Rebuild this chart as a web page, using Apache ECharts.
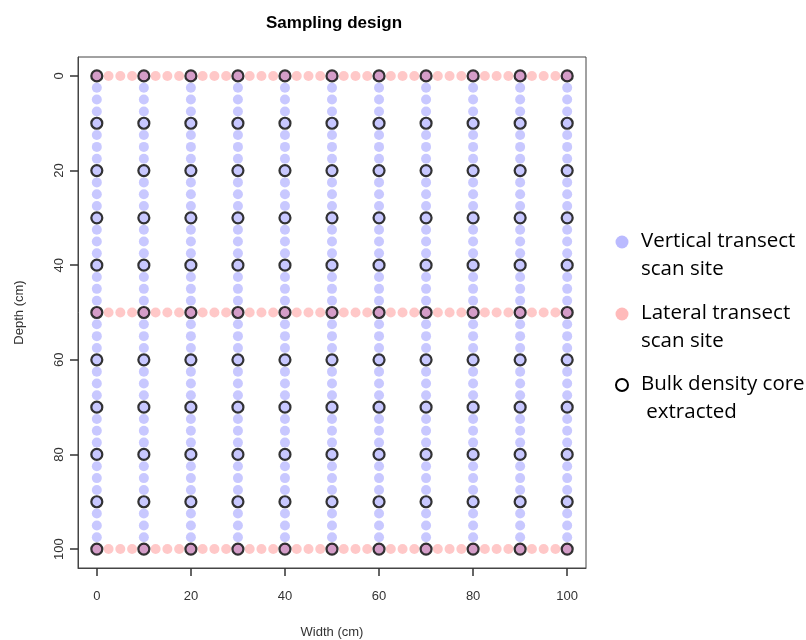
<!DOCTYPE html>
<html>
<head>
<meta charset="utf-8">
<script src="https://cdn.jsdelivr.net/npm/echarts@6/dist/echarts.min.js"></script>
<style>
  html, body { margin: 0; padding: 0; background: #fff; }
  #main { width: 806px; height: 640px; }
</style>
</head>
<body>
<div id="main"></div>
<script>
// transect positions across the width (cm)
const transectX = [0, 10, 20, 30, 40, 50, 60, 70, 80, 90, 100];
// scan sites along a transect, every 2.5 cm
const scanPos = [0, 2.5, 5, 7.5, 10, 12.5, 15, 17.5, 20, 22.5, 25, 27.5, 30, 32.5, 35, 37.5, 40,
  42.5, 45, 47.5, 50, 52.5, 55, 57.5, 60, 62.5, 65, 67.5, 70, 72.5, 75, 77.5, 80, 82.5, 85, 87.5,
  90, 92.5, 95, 97.5, 100];
// depths of the lateral transects (cm)
const lateralDepths = [0, 50, 100];
// depths where bulk density cores were taken (cm)
const coreDepths = [0, 10, 20, 30, 40, 50, 60, 70, 80, 90, 100];
const tickValues = [0, 20, 40, 60, 80, 100];

// build point lists
let verticalPts = [];
transectX.forEach(x => scanPos.forEach(d => verticalPts.push([x, d])));
let lateralPts = [];
lateralDepths.forEach(d => scanPos.forEach(x => lateralPts.push([x, d])));
let corePts = [];
transectX.forEach(x => coreDepths.forEach(d => corePts.push([x, d])));

const axisFont = 'Liberation Sans';
const legendFont = 'Open Sans';
const legendStyle = '20.5px "' + legendFont + '"';

let myChart = echarts.init(document.getElementById('main'));
let option = {
  animation: false,
  title: {
    text: 'Sampling design',
    left: 261,
    top: 10,
    textStyle: { fontFamily: axisFont, fontSize: 17, fontWeight: 'bold', color: '#000' }
  },
  grid: {
    left: 78, top: 57, width: 508, height: 511,
    outerBoundsMode: 'none',
    show: true, borderColor: '#444', borderWidth: 1
  },
  xAxis: {
    type: 'value', min: -4, max: 104,
    name: 'Width (cm)', nameLocation: 'middle', nameGap: 58,
    nameTextStyle: { fontFamily: axisFont, fontSize: 13, color: '#333' },
    axisLine: { show: true, onZero: false, lineStyle: { color: '#444' } },
    axisTick: { show: true, length: 8, customValues: tickValues, lineStyle: { color: '#333', width: 1.5 } },
    axisLabel: { customValues: tickValues, margin: 22, fontFamily: axisFont, fontSize: 13, color: '#333' },
    splitLine: { show: false }
  },
  yAxis: {
    type: 'value', min: -4, max: 104, inverse: true,
    name: 'Depth (cm)', nameLocation: 'middle', nameGap: 52,
    nameTextStyle: { fontFamily: axisFont, fontSize: 13, color: '#333' },
    axisLine: { show: true, onZero: false, lineStyle: { color: '#444' } },
    axisTick: { show: true, length: 8, customValues: tickValues, lineStyle: { color: '#333', width: 1.5 } },
    axisLabel: { customValues: tickValues, rotate: 90, margin: 12, fontFamily: axisFont, fontSize: 13, color: '#333' },
    splitLine: { show: false }
  },
  series: [
    {
      name: 'Vertical transect scan site', type: 'scatter', data: verticalPts,
      symbol: 'circle', symbolSize: 10,
      itemStyle: { color: 'rgba(0,0,255,0.27)' }
    },
    {
      name: 'Lateral transect scan site', type: 'scatter', data: lateralPts,
      symbol: 'circle', symbolSize: 10,
      itemStyle: { color: 'rgba(255,0,0,0.27)' }
    },
    {
      name: 'Bulk density core extracted', type: 'scatter', data: corePts,
      symbol: 'circle', symbolSize: 11,
      itemStyle: { color: 'rgba(0,0,0,0)', borderColor: '#000', borderWidth: 2.2 }
    }
  ],
  graphic: [
    { type: 'circle', shape: { cx: 622, cy: 242, r: 6.5 }, style: { fill: 'rgba(0,0,255,0.27)' } },
    { type: 'text', left: 641, top: 227, style: { text: 'Vertical transect\nscan site', font: legendStyle, lineHeight: 28, fill: '#000' } },
    { type: 'circle', shape: { cx: 622, cy: 314, r: 6.5 }, style: { fill: 'rgba(255,0,0,0.27)' } },
    { type: 'text', left: 641, top: 299, style: { text: 'Lateral transect\nscan site', font: legendStyle, lineHeight: 28, fill: '#000' } },
    { type: 'circle', shape: { cx: 622, cy: 385, r: 6 }, style: { fill: 'none', stroke: '#000', lineWidth: 2 } },
    { type: 'text', left: 641, top: 370, style: { text: 'Bulk density core\n extracted', font: legendStyle, lineHeight: 28, fill: '#000' } }
  ]
};
myChart.setOption(option);
</script>
</body>
</html>
